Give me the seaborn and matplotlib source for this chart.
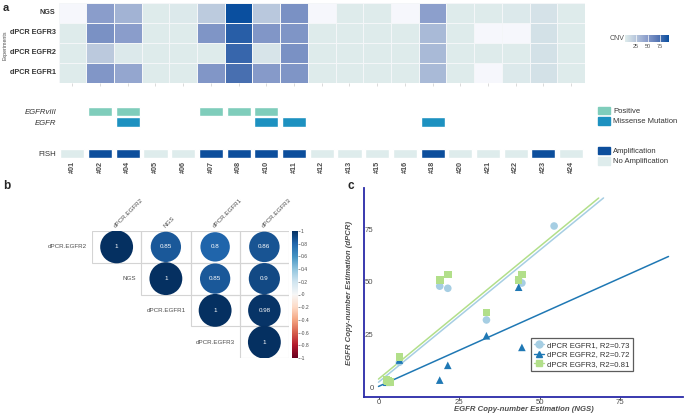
import numpy as np
import pandas as pd
import matplotlib
matplotlib.use("Agg")
import matplotlib.pyplot as plt
import seaborn as sns
from matplotlib.colors import LinearSegmentedColormap, Normalize
from matplotlib.cm import ScalarMappable
from matplotlib.patches import Patch, Rectangle
from matplotlib.lines import Line2D

# ---------------- data ----------------
samples = ['#01', '#02', '#04', '#05', '#06', '#07', '#08', '#10', '#11', '#12',
           '#13', '#15', '#16', '#18', '#20', '#21', '#22', '#23', '#24']
experiments = ['NGS', 'dPCR EGFR3', 'dPCR EGFR2', 'dPCR EGFR1']
nan = np.nan
cnv_ngs   = [nan, 48, 36, 3, 4, 22, 94, 24, 55, nan, 3, 3, nan, 47, 3, 3, 4, 8, 3]
cnv_egfr3 = [3, 55, 48, 3, 3, 53, 85, 52, 53, 3, 3, 3, 3, 32, 3, nan, nan, 9, 3]
cnv_egfr2 = [3, 23, 4, 3, 3, 3, 80, 7, 55, 3, 3, 3, 3, 32, 3, 3, 3, 9, 3]
cnv_egfr1 = [3, 52, 43, 3, 3, 52, 75, 50, 53, 3, 3, 3, 3, 32, 3, nan, 4, 9, 3]

egfrviii_positive = ['#02', '#04', '#07', '#08', '#10']
egfr_missense = ['#04', '#10', '#11', '#18']
fish_amplified = ['#02', '#04', '#07', '#08', '#10', '#11', '#18', '#23']

corr_labels = ['dPCR.EGFR2', 'NGS', 'dPCR.EGFR1', 'dPCR.EGFR3']
corr_values = [[1.00, 0.85, 0.80, 0.86],
               [0.85, 1.00, 0.85, 0.90],
               [0.80, 0.85, 1.00, 0.98],
               [0.86, 0.90, 0.98, 1.00]]

ngs_est    = [2.5, 3.0, 3.5, 6.5, 19.0, 21.5, 33.5, 43.5, 44.5, 54.5]
dpcr_egfr1 = [2.5, 3.0, 2.5, 12.0, 48.0, 47.0, 32.0, 51.0, 49.5, 76.5]
dpcr_egfr2 = [2.5, 2.5, 3.0, 13.0, 3.5, 10.5, 24.5, 47.5, 19.0, nan]
dpcr_egfr3 = [3.5, 3.0, 2.5, 14.5, 51.0, 53.5, 35.5, 51.0, 53.5, nan]
series_names = ['dPCR EGFR1, R2=0.73', 'dPCR EGFR2, R2=0.72', 'dPCR EGFR3, R2=0.81']
fit_intercept = [2.5, 0.5, 4.0]
fit_slope = [1.25, 0.684, 1.255]

# ---------------- style ----------------
sns.set_theme(style="white")
plt.rcParams['font.family'] = ['Liberation Sans', 'DejaVu Sans']
GREY = '#4d4d4d'
W, H = 685, 417
fig = plt.figure(figsize=(W / 100, H / 100), dpi=100)


def px_axes(x0, y0, x1, y1):
    return fig.add_axes([x0 / W, 1 - y1 / H, (x1 - x0) / W, (y1 - y0) / H])


# ================= panel a: heatmap =================
cnv_cmap = LinearSegmentedColormap.from_list(
    'cnv', ['#dfecec', '#b7c6dc', '#8a9dcb', '#5676b4', '#0a4f9f'])
df = pd.DataFrame([cnv_ngs, cnv_egfr3, cnv_egfr2, cnv_egfr1],
                  index=experiments, columns=samples)
ax_h = px_axes(58.5, 3, 585, 83)
ax_h.set_facecolor('#f6f7fc')
cax = px_axes(625, 35, 669, 42)
sns.heatmap(df, ax=ax_h, cmap=cnv_cmap, vmin=2, vmax=94, linewidths=0.5,
            linecolor='#f4f6f8', cbar_ax=cax,
            cbar_kws={'orientation': 'horizontal', 'ticks': [25, 50, 75]})
ax_h.set_xticks(np.arange(len(samples)) + 0.5)
ax_h.set_xticklabels([])
ax_h.tick_params(axis='x', bottom=True, length=2, color='#cccccc', width=0.5)
ax_h.tick_params(axis='y', length=0, pad=2)
for t in ax_h.get_yticklabels():
    t.set_fontsize(5.2)
    t.set_fontweight('bold')
    t.set_color('#333333')
    t.set_rotation(0)
ax_h.set_xlabel('')
ax_h.set_ylabel('')
cbar = ax_h.collections[0].colorbar
cbar.outline.set_visible(False)
cax.tick_params(axis='x', labelsize=4, colors=GREY, length=0, pad=1.5)
for v in [25, 50, 75]:
    cax.axvline(v, color='white', lw=0.5)
fig.text(610 / W, 1 - 39 / H, 'CNV', fontsize=5, color=GREY, va='center')
fig.text(3 / W, 1 - 8 / H, 'a', fontsize=8, fontweight='bold', va='center')
fig.text(5 / W, 1 - 45 / H, 'Experiments', fontsize=3.8, color=GREY,
         rotation=90, ha='center', va='center')

# ================= panel a: mutations / FISH =================
ax_m = px_axes(58.5, 106.25, 585, 158.75)
xi = {s: i for i, s in enumerate(samples)}
bw, bh = 0.87, 0.88
ax_m.bar([xi[s] for s in egfrviii_positive], bh, bottom=0 - bh / 2, width=bw,
         color='#7fcdbb')
ax_m.bar([xi[s] for s in egfr_missense], bh, bottom=1 - bh / 2, width=bw,
         color='#1d91c0')
fish_cols = ['#0c4e9c' if s in fish_amplified else '#deecec' for s in samples]
ax_m.bar(range(len(samples)), bh, bottom=4 - bh / 2, width=bw, color=fish_cols)
ax_m.set_xlim(-0.5, len(samples) - 0.5)
ax_m.set_ylim(4.5, -0.5)
ax_m.set_yticks([0, 1, 4])
ax_m.set_yticklabels(['EGFRvIII', 'EGFR', 'FISH'])
for t, st in zip(ax_m.get_yticklabels(), ['italic', 'italic', 'normal']):
    t.set_fontstyle(st)
    t.set_fontsize(5.6)
    t.set_color('#333333')
ax_m.set_xticks(range(len(samples)))
ax_m.set_xticklabels(samples, rotation=90, fontsize=5.2, color=GREY,
                     fontweight='bold')
ax_m.tick_params(length=0, pad=1.5)
for sp in ax_m.spines.values():
    sp.set_visible(False)
ax_m.set_facecolor('none')

fig.legend(handles=[Patch(color='#7fcdbb', label='Positive'),
                    Patch(color='#1d91c0', label='Missense Mutation')],
           loc='upper left', bbox_to_anchor=(598 / W, 1 - 107 / H),
           frameon=False, fontsize=5.5, handlelength=1.6, handleheight=1.1,
           handletextpad=0.35, labelspacing=0.25, borderpad=0,
           borderaxespad=0, labelcolor='#333333')
fig.legend(handles=[Patch(color='#0c4e9c', label='Amplification'),
                    Patch(color='#deecec', label='No Amplification')],
           loc='upper left', bbox_to_anchor=(598 / W, 1 - 147 / H),
           frameon=False, fontsize=5.5, handlelength=1.6, handleheight=1.1,
           handletextpad=0.35, labelspacing=0.25, borderpad=0,
           borderaxespad=0, labelcolor='#333333')

# ================= panel b: correlation =================
ax_b = px_axes(92, 231, 289, 358)
n = len(corr_labels)
rows = []
for i in range(n):
    for j in range(i, n):
        rows.append({'col': j, 'row': i, 'r': corr_values[i][j],
                     'absr': abs(corr_values[i][j])})
        ax_b.add_patch(Rectangle((j - 0.5, i - 0.5), 1, 1, fill=False,
                                 ec='#d4d4d4', lw=0.8))
corr_df = pd.DataFrame(rows)
sns.scatterplot(data=corr_df, x='col', y='row', hue='r', hue_norm=(-1, 1),
                palette='RdBu', size='absr', size_norm=(0, 1), sizes=(0, 560),
                edgecolor='none', legend=False, ax=ax_b)
for _, rw in corr_df.iterrows():
    ax_b.text(rw['col'], rw['row'], f"{rw['r']:g}", color='white', fontsize=4.5,
              ha='center', va='center')
for k, lab in enumerate(corr_labels):
    ax_b.text(k, -0.58, lab, rotation=45, rotation_mode='anchor', ha='left',
              va='bottom', fontsize=4.5, color=GREY)
    ax_b.text(k - 0.6, k, lab, ha='right', va='center', fontsize=4.5, color=GREY)
ax_b.set_xlim(-0.5, n - 0.5)
ax_b.set_ylim(n - 0.5, -0.5)
ax_b.axis('off')

cax_b = px_axes(292, 231, 298, 358)
cb_ticks = np.round(np.arange(-1, 1.01, 0.2), 1)
cb_b = fig.colorbar(ScalarMappable(Normalize(-1, 1), cmap='RdBu'), cax=cax_b,
                    ticks=cb_ticks)
cb_b.ax.set_yticklabels([f"{v:g}" for v in cb_ticks])
cb_b.outline.set_visible(False)
cax_b.tick_params(labelsize=3.6, colors=GREY, length=1.2, width=0.4, pad=1)
fig.text(3 / W, 1 - 186 / H, 'b', fontsize=8.5, fontweight='bold', va='center')

# ================= panel c: regression =================
ax_c = px_axes(364, 188, 683, 397)
colors = ['#a6cee3', '#1f78b4', '#b2df8a']
markers = ['o', '^', 's']
series = [dpcr_egfr1, dpcr_egfr2, dpcr_egfr3]
xs = np.linspace(0, 90, 300)
for k in range(3):
    yfit = fit_intercept[k] + fit_slope[k] * xs
    yfit[yfit > 90] = np.nan
    ax_c.plot(xs, yfit, color=colors[k], lw=1.1)
for k in range(3):
    d = pd.DataFrame({'x': ngs_est, 'y': series[k]}).dropna()
    sns.scatterplot(data=d, x='x', y='y', color=colors[k], marker=markers[k],
                    s=30, edgecolor='none', ax=ax_c, zorder=3)
ax_c.set_xlim(-4.5, 94.5)
ax_c.set_ylim(-4.5, 94.5)
ax_c.set_xticks([0, 25, 50, 75])
ax_c.set_yticks([0, 25, 50, 75])
ax_c.tick_params(axis='x', labelsize=5.6, colors='#333333', labelcolor=GREY,
                 length=1.5, width=0.6, bottom=True, pad=0)
ax_c.tick_params(axis='y', labelsize=5.6, labelcolor=GREY, length=0, left=True,
                 pad=-7.0)
for s in ['top', 'right']:
    ax_c.spines[s].set_visible(False)
for s in ['left', 'bottom']:
    ax_c.spines[s].set_color('#2a2aa8')
    ax_c.spines[s].set_linewidth(1.3)
ax_c.set_xlabel('EGFR Copy-number Estimation (NGS)', fontsize=5.6, color=GREY,
                fontweight='bold', fontstyle='italic')
ax_c.set_ylabel('EGFR Copy-number Estimation (dPCR)', fontsize=5.6, color=GREY,
                fontweight='bold', fontstyle='italic')
ax_c.xaxis.set_label_coords(0.5, -0.045)
ax_c.yaxis.set_label_coords(-0.036, 0.5)
handles = [Line2D([], [], color=colors[k], marker=markers[k], markersize=5,
                  lw=1.0, label=series_names[k]) for k in range(3)]
leg_c = ax_c.legend(handles=handles, loc='upper left',
                    bbox_to_anchor=(531 / W, 1 - 338 / H),
                    bbox_transform=fig.transFigure, fontsize=5.6, frameon=True,
                    fancybox=False, edgecolor='#333333', handlelength=1.3,
                    handletextpad=0.4, labelspacing=0.3, borderpad=0.4,
                    borderaxespad=0, labelcolor='#333333')
leg_c.get_frame().set_linewidth(0.9)
fig.text(348 / W, 1 - 186 / H, 'c', fontsize=8.5, fontweight='bold', va='center')

fig.savefig('out.png', dpi=100)
